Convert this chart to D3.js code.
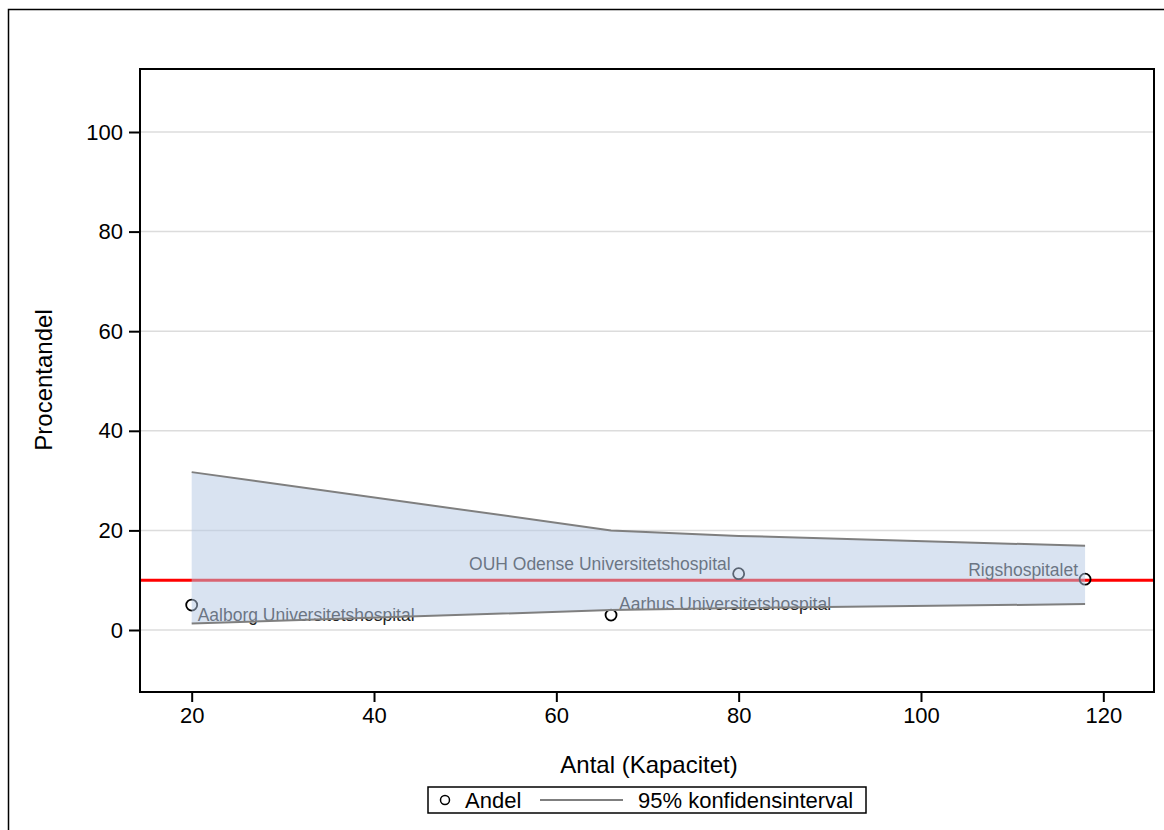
<!DOCTYPE html>
<html><head><meta charset="utf-8">
<script src="https://cdn.jsdelivr.net/npm/d3@7/dist/d3.min.js"></script>
<style>body{margin:0;background:#fff}svg{display:block;font-family:"Liberation Sans",Arial,sans-serif}</style>
</head><body>
<script>
const hospitals = ["Aalborg Universitetshospital","Aarhus Universitetshospital","OUH Odense Universitetshospital","Rigshospitalet"];
const antal = [20, 66, 80, 118];
const andel = [5.0, 3.0, 11.3, 10.2];
const ciLower = [1.3, 4.0, 4.4, 5.2];
const ciUpper = [31.7, 20.0, 18.9, 16.9];
const referenceLevel = 10;
const xTicks = [20, 40, 60, 80, 100, 120];
const yTicks = [0, 20, 40, 60, 80, 100];
// label placement: [dx, dy, anchor]
const labelPos = [[6, 16, "start"], [8, -5, "start"], [-8, -4, "end"], [-7, -3, "end"]];

const W = 1164, H = 830;
const L = 140, T = 69, R = 1154, B = 692;
const svg = d3.select("body").append("svg").attr("width", W).attr("height", H);

const x = d3.scaleLinear().domain([14.33, 125.56]).range([L, R]);
const y = d3.scaleLinear().domain([-12.45, 112.65]).range([B, T]);

// outer frame
svg.append("rect").attr("x", 8.5).attr("y", 9.5).attr("width", 1170).attr("height", 840)
  .attr("fill", "none").attr("stroke", "#000").attr("stroke-width", 1.5);

// gridlines
svg.append("g").selectAll("line").data(yTicks).join("line")
  .attr("x1", L).attr("x2", R).attr("y1", d => y(d)).attr("y2", d => y(d))
  .attr("stroke", "#dcdcdc").attr("stroke-width", 1.5);

// reference line
svg.append("line").attr("x1", L).attr("x2", R)
  .attr("y1", y(referenceLevel)).attr("y2", y(referenceLevel))
  .attr("stroke", "#ff0000").attr("stroke-width", 3);

const data = antal.map((a, i) => ({a, p: andel[i], lo: ciLower[i], hi: ciUpper[i], name: hospitals[i], lp: labelPos[i]}));

// points
svg.append("g").selectAll("circle").data(data).join("circle")
  .attr("cx", d => x(d.a)).attr("cy", d => y(d.p)).attr("r", 5.5)
  .attr("fill", "none").attr("stroke", "#000").attr("stroke-width", 1.8);

// labels
svg.append("g").selectAll("text").data(data).join("text")
  .attr("x", d => x(d.a) + d.lp[0]).attr("y", d => y(d.p) + d.lp[1])
  .attr("text-anchor", d => d.lp[2])
  .attr("font-size", 17.5).attr("fill", "#222").text(d => d.name);

// CI band (drawn on top, semi-transparent)
const area = d3.area().x(d => x(d.a)).y0(d => y(d.lo)).y1(d => y(d.hi));
svg.append("path").datum(data).attr("d", area)
  .attr("fill", "rgb(180,200,228)").attr("fill-opacity", 0.5);
const lineHi = d3.line().x(d => x(d.a)).y(d => y(d.hi));
const lineLo = d3.line().x(d => x(d.a)).y(d => y(d.lo));
svg.append("path").datum(data).attr("d", lineHi).attr("fill", "none").attr("stroke", "#7f7f7f").attr("stroke-width", 2);
svg.append("path").datum(data).attr("d", lineLo).attr("fill", "none").attr("stroke", "#7f7f7f").attr("stroke-width", 2);

// axes
const xAxis = d3.axisBottom(x).tickValues(xTicks).tickSize(10).tickPadding(5).tickSizeOuter(0);
const gx = svg.append("g").attr("transform", `translate(0,${B})`).call(xAxis);
gx.select(".domain").remove();
gx.selectAll("line").attr("stroke", "#000").attr("stroke-width", 2);
gx.selectAll("text").attr("font-size", 22).attr("fill", "#000").attr("font-family", "Liberation Sans, Arial, sans-serif");

const yAxis = d3.axisLeft(y).tickValues(yTicks).tickSize(11).tickPadding(6).tickSizeOuter(0);
const gy = svg.append("g").attr("transform", `translate(${L},0)`).call(yAxis);
gy.select(".domain").remove();
gy.selectAll("line").attr("stroke", "#000").attr("stroke-width", 2);
gy.selectAll("text").attr("font-size", 22).attr("fill", "#000").attr("font-family", "Liberation Sans, Arial, sans-serif");

// plot frame
svg.append("rect").attr("x", L).attr("y", T).attr("width", R - L).attr("height", B - T)
  .attr("fill", "none").attr("stroke", "#000").attr("stroke-width", 2);

// axis titles
svg.append("text").attr("x", 649).attr("y", 773).attr("text-anchor", "middle")
  .attr("font-size", 24).text("Antal (Kapacitet)");
svg.append("text").attr("transform", "translate(52,380) rotate(-90)").attr("text-anchor", "middle")
  .attr("font-size", 24).text("Procentandel");

// legend
const lg = svg.append("g");
lg.append("rect").attr("x", 428).attr("y", 787).attr("width", 438).attr("height", 26)
  .attr("fill", "#fff").attr("stroke", "#000").attr("stroke-width", 1.5);
lg.append("circle").attr("cx", 445).attr("cy", 800).attr("r", 4.5)
  .attr("fill", "none").attr("stroke", "#000").attr("stroke-width", 1.5);
lg.append("text").attr("x", 465).attr("y", 808).attr("font-size", 22).text("Andel");
lg.append("line").attr("x1", 540).attr("x2", 623).attr("y1", 800).attr("y2", 800)
  .attr("stroke", "#7f7f7f").attr("stroke-width", 2);
lg.append("text").attr("x", 638).attr("y", 808).attr("font-size", 22).text("95% konfidensinterval");
</script>
</body></html>
